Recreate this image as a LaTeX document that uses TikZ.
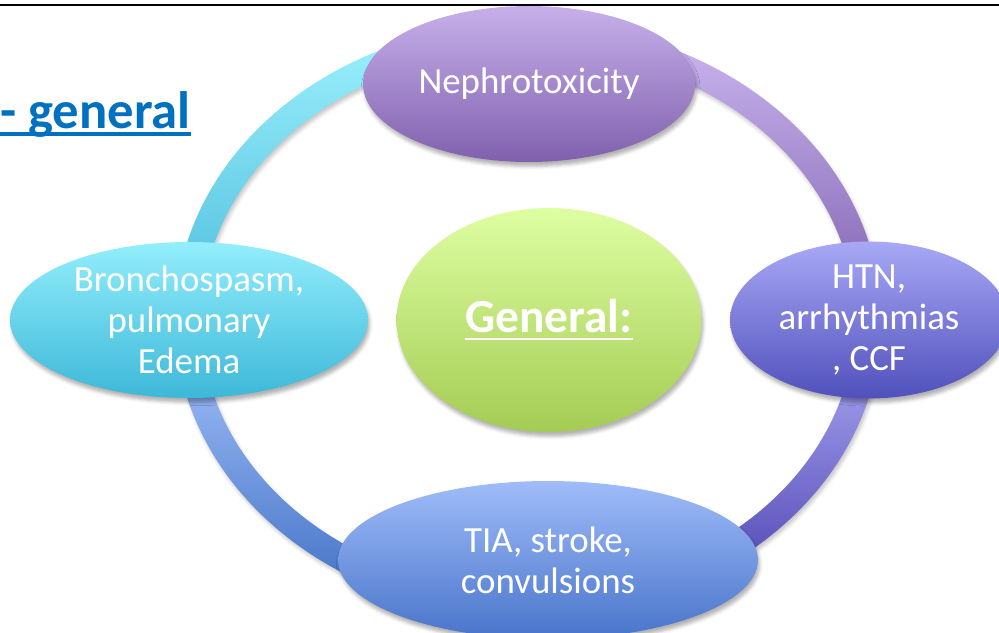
\documentclass[tikz,border=0pt]{standalone}
\usepackage{fontspec}
\setmainfont{Carlito}
\usetikzlibrary{shapes.geometric,shadows.blur,calc}

\definecolor{titleblue}{RGB}{0,112,192}
\definecolor{cyantop}{RGB}{147,238,252}
\definecolor{cyanbot}{RGB}{61,184,216}
\definecolor{lavtop}{RGB}{199,176,234}
\definecolor{lavbot}{RGB}{128,96,174}
\definecolor{peritop}{RGB}{168,168,246}
\definecolor{peribot}{RGB}{80,80,188}
\definecolor{bluetop}{RGB}{160,188,249}
\definecolor{bluebot}{RGB}{72,116,202}
\definecolor{limetop}{RGB}{222,254,162}
\definecolor{limebot}{RGB}{164,204,84}
% ring colours
\definecolor{ringcyanA}{RGB}{158,242,254}
\definecolor{ringcyanB}{RGB}{75,187,219}
\definecolor{ringlavA}{RGB}{206,185,242}
\definecolor{ringlavB}{RGB}{124,94,173}
\definecolor{ringperiA}{RGB}{180,180,250}
\definecolor{ringperiB}{RGB}{68,56,170}
\definecolor{ringblueA}{RGB}{172,200,255}
\definecolor{ringblueB}{RGB}{59,108,193}

% thick underline: depth, thickness, text
\newcommand{\ulfat}[3]{\setbox0=\hbox{#3}\rlap{\rule[-#1]{\wd0}{#2}}\box0}

% one quarter of the ring: start angle, end angle, top colour, bottom colour
\newcommand{\ringpart}[4]{%
  \path[shade, top color=#3, bottom color=#4, ringshadow]
    ($(hub)+(#1:353 and 297)$) arc[start angle=#1, end angle=#2, x radius=353, y radius=297]
    -- ($(hub)+(#2:327 and 271)$) arc[start angle=#2, end angle=#1, x radius=327, y radius=271]
    -- cycle;}

\begin{document}
\begin{tikzpicture}[x=0.02cm, y=-0.02cm,
    bubble/.style={ellipse, inner sep=0pt, text=white, align=center,
      font=\fontsize{21}{23.5}\selectfont,
      blur shadow={shadow xshift=1pt, shadow yshift=-2.5pt, shadow opacity=30}},
    ringshadow/.style={blur shadow={shadow xshift=1pt, shadow yshift=-2pt, shadow opacity=22}}]
    \useasboundingbox (0,0) rectangle (999,632);
    \clip (0,0) rectangle (999,632);

    % Top rule
    \draw[line width=1.2pt] (0,5) -- (999,5);

    % Title
    \node[anchor=base east, inner sep=0pt, text=titleblue,
      font=\fontsize{30}{36}\selectfont\bfseries] (title) at (191,128)
      {\ulfat{4.4pt}{2.2pt}{- general}};

    % Ring
    \coordinate (hub) at (528,320);
    \ringpart{180}{270}{ringcyanA}{ringcyanB}
    \ringpart{270}{360}{ringlavA}{ringlavB}
    \ringpart{0}{90}{ringperiA}{ringperiB}
    \ringpart{90}{180}{ringblueA}{ringblueB}

    % Outer bubbles
    \node[bubble, minimum width=6.64cm, minimum height=3.12cm,
      top color=lavtop, bottom color=lavbot] (nephro) at (529,84) {Nephrotoxicity};
    \node[bubble, minimum width=5.56cm, minimum height=3.12cm,
      top color=peritop, bottom color=peribot] (htn) at (869,320) {HTN,\\arrhythmias\\, CCF};
    \node[bubble, minimum width=8.4cm, minimum height=3.16cm,
      top color=bluetop, bottom color=bluebot] (tia) at (548,560) {TIA, stroke,\\convulsions};
    \node[bubble, minimum width=7.16cm, minimum height=3.12cm,
      top color=cyantop, bottom color=cyanbot] (broncho) at (189,320) {Bronchospasm,\\pulmonary\\Edema};

    % Centre
    \node[bubble, minimum width=6.1cm, minimum height=4.48cm,
      top color=limetop, bottom color=limebot,
      font=\fontsize{27}{32}\selectfont\bfseries] (general) at (549,320)
      {\ulfat{4.2pt}{1.6pt}{General:}};
\end{tikzpicture}
\end{document}
